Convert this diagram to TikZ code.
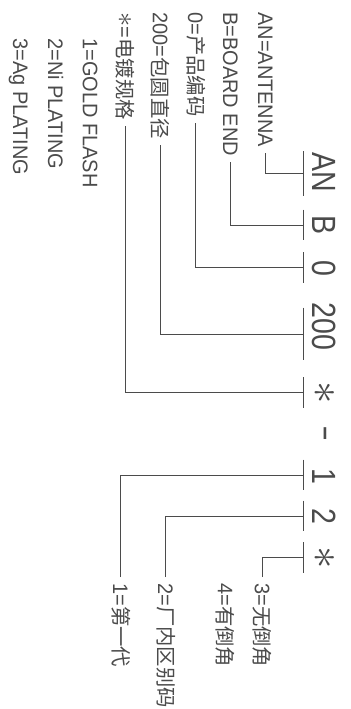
\documentclass[tikz,border=0pt]{standalone}
\usepackage{fontspec}
\usepackage{graphicx}
\setmainfont{Liberation Sans}[FakeStretch=0.95]
\newfontfamily\codefont{Liberation Sans}[FakeStretch=0.85]
\newfontfamily\cjk{Noto Sans CJK SC}[Scale=0.97]
\definecolor{cadgray}{RGB}{75,75,75}
\newcommand\starsym{\scalebox{1.3}{$\ast$}}
\newcommand\dashsym{\raisebox{0.1em}{\scalebox{1.7}[1]{-}}}

\begin{document}
\begin{tikzpicture}[x=0.5pt, y=-0.5pt,
    partcode/.style={anchor=base, rotate=-90, inner sep=0pt, text=cadgray,
      font=\codefont\fontsize{16.8}{18}\selectfont},
    note/.style={anchor=base west, rotate=-90, inner sep=0pt, text=cadgray,
      font=\fontsize{10.5}{12}\selectfont},
    tickbar/.style={inner sep=0pt, minimum width=0pt},
    tick/.style={draw=cadgray, line width=0.5pt},
    lead/.style={draw=cadgray, line width=0.5pt, shorten <=3pt}]

\useasboundingbox (0,0) rectangle (350,709);

% Part number, read top to bottom
\node[partcode] (cAN) at (313,172.5) {AN};
\node[partcode] (cB) at (313,225.5) {B};
\node[partcode] (c0) at (313,268.5) {0};
\node[partcode] (c200) at (313,326.5) {200};
\node[partcode] (cStar) at (314,393) {\starsym};
\node[partcode] (cDash) at (313,434) {\dashsym};
\node[partcode] (c1) at (313,476) {1};
\node[partcode] (c2) at (313,516.5) {2};
\node[partcode] (cStarB) at (314,558) {\starsym};

% Tick bars under each field
\node[tickbar, minimum height=22pt] (tAN) at (303,173.5) {};
\node[tickbar, minimum height=15pt] (tB) at (303,225) {};
\node[tickbar, minimum height=15pt] (t0) at (303,267.5) {};
\node[tickbar, minimum height=26pt] (t200) at (303,334) {};
\node[tickbar, minimum height=15pt] (tStar) at (303,392.5) {};
\node[tickbar, minimum height=15pt] (t1) at (303,475) {};
\node[tickbar, minimum height=15pt] (t2) at (303,516) {};
\node[tickbar, minimum height=15pt] (tStarB) at (303,557.5) {};

\draw[tick] (tAN.north) -- (tAN.south);
\draw[tick] (tB.north) -- (tB.south);
\draw[tick] (t0.north) -- (t0.south);
\draw[tick] (t200.north) -- (t200.south);
\draw[tick] (tStar.north) -- (tStar.south);
\draw[tick] (t1.north) -- (t1.south);
\draw[tick] (t2.north) -- (t2.south);
\draw[tick] (tStarB.north) -- (tStarB.south);

% Field descriptions
\node[note] (lAN) at (258,12) {AN=ANTENNA};
\node[note] (lB) at (223,12) {B=BOARD END};
\node[note] (l0) at (188,12) {0={\cjk 产品编码}};
\node[note] (l200) at (153,12) {200={\cjk 包圆直径}};
\node[note] (lStar) at (118,12) {\starsym={\cjk 电镀规格}};
\node[note] (lGold) at (83,38) {1=GOLD FLASH};
\node[note] (lNi) at (48,38) {2=Ni PLATING};
\node[note] (lAg) at (13,38) {3=Ag PLATING};

\node[note] (lGen) at (113,583) {1={\cjk 第一代}};
\node[note] (lFac) at (158,583) {2={\cjk 厂内区别码}};
\node[note] (lCham) at (218,583) {4={\cjk 有倒角}};
\node[note] (lNoCham) at (255,583) {3={\cjk 无倒角}};

% Leaders (canvas is upright, so |- runs down/up first)
\draw[lead] (lAN.east) |- (tAN.center);
\draw[lead] (lB.east) |- (tB.center);
\draw[lead] (l0.east) |- (t0.center);
\draw[lead] (l200.east) |- (t200.center);
\draw[lead] (lStar.east) |- (tStar.center);

\draw[lead] (lGen.west) |- (t1.center);
\draw[lead] (lFac.west) |- (t2.center);
\draw[lead] (lNoCham.west) |- (tStarB.center);

\end{tikzpicture}
\end{document}
